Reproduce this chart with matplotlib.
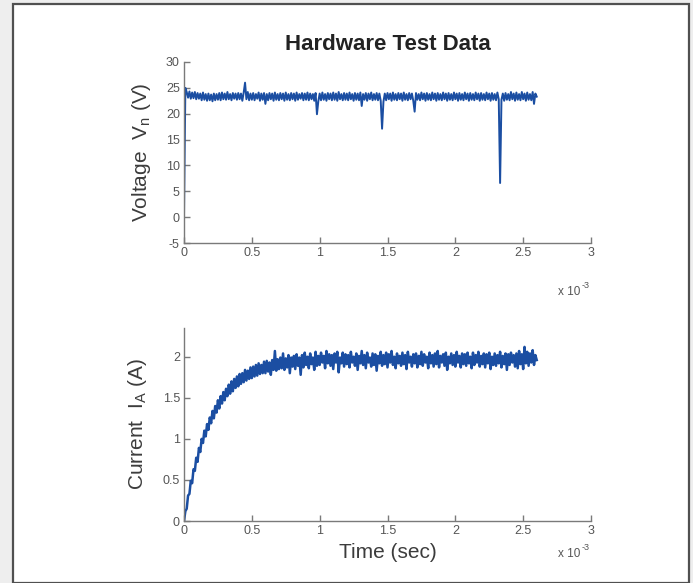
import numpy as np
import matplotlib
matplotlib.use("Agg")
import matplotlib.pyplot as plt
from matplotlib.patches import Rectangle

plt.rcParams['font.family'] = ['Liberation Sans', 'DejaVu Sans']
plt.rcParams['axes.unicode_minus'] = False

# sample index -> time in ms (one sample every 0.01 ms, 0 .. 2.6 ms)
n_samples = 261
time_ms = np.arange(n_samples) * 0.01

voltage = [
    0.0, 25.0, 24.2, 23.1, 24.3, 22.9, 24.1, 23.0, 24.2, 22.8,
    24.0, 22.9, 23.9, 22.6, 24.1, 22.7, 23.8, 22.5, 23.9, 22.6,
    23.7, 22.4, 23.9, 22.6, 23.8, 22.7, 24.0, 22.6, 24.1, 22.8,
    23.9, 22.7, 24.2, 22.8, 23.8, 22.6, 24.0, 22.9, 23.9, 22.7,
    24.0, 22.8, 23.9, 22.5, 24.1, 26.0, 22.8, 24.2, 22.6, 23.9,
    22.7, 24.0, 22.6, 23.8, 22.9, 24.1, 22.5, 23.9, 22.7, 24.0,
    21.9, 23.8, 22.6, 24.0, 22.8, 23.9, 22.5, 24.1, 22.7, 23.8,
    22.6, 24.0, 22.8, 23.9, 22.5, 24.1, 22.7, 23.8, 22.6, 24.0,
    22.8, 23.9, 22.5, 24.1, 22.7, 23.8, 22.9, 24.0, 22.6, 23.9,
    22.7, 24.1, 22.6, 23.9, 22.8, 23.8, 22.5, 24.0, 19.9, 22.4,
    23.9, 22.6, 24.1, 22.7, 23.8, 22.5, 24.0, 22.8, 23.9, 22.6,
    24.1, 22.7, 23.9, 22.5, 24.2, 22.8, 23.8, 22.6, 24.0, 22.7,
    23.9, 22.6, 24.1, 22.8, 23.8, 22.5, 24.0, 22.7, 23.9, 22.6,
    24.1, 21.5, 23.8, 22.7, 24.0, 22.5, 23.9, 22.8, 24.1, 22.6,
    23.8, 22.7, 24.0, 22.6, 23.9, 22.5, 17.1, 22.3, 23.9, 22.6,
    24.0, 22.8, 23.9, 22.5, 24.1, 22.7, 23.8, 22.6, 24.0, 22.8,
    23.9, 22.5, 24.1, 22.7, 23.8, 22.6, 24.0, 22.8, 23.9, 22.5,
    20.4, 24.0, 22.7, 23.8, 22.6, 24.1, 22.8, 23.9, 22.5, 24.0,
    22.7, 23.8, 22.6, 24.1, 22.8, 23.9, 22.5, 24.0, 22.7, 23.8,
    22.6, 24.1, 22.8, 23.9, 22.5, 24.0, 22.7, 23.8, 22.6, 24.1,
    22.8, 23.9, 22.5, 24.0, 22.7, 23.8, 22.6, 24.1, 22.8, 23.9,
    22.5, 24.0, 22.7, 23.8, 22.6, 24.1, 22.8, 23.9, 22.5, 24.0,
    22.7, 23.8, 22.6, 24.1, 22.8, 23.9, 22.5, 24.0, 22.7, 23.8,
    22.6, 24.1, 22.8, 6.6, 22.7, 23.9, 22.5, 24.0, 22.7, 23.8,
    22.6, 24.2, 22.8, 23.9, 22.5, 24.1, 22.7, 23.8, 22.6, 24.2,
    22.8, 23.9, 22.5, 24.1, 22.7, 23.8, 22.6, 24.2, 21.9, 23.9,
    23.3,
]

current = [
    0.00, 0.12, 0.15, 0.31, 0.33, 0.49, 0.46, 0.63, 0.61, 0.77,
    0.72, 0.89, 0.84, 1.00, 0.95, 1.10, 1.03, 1.18, 1.11, 1.26,
    1.19, 1.34, 1.25, 1.40, 1.32, 1.47, 1.37, 1.52, 1.43, 1.57,
    1.47, 1.61, 1.52, 1.66, 1.55, 1.70, 1.58, 1.73, 1.62, 1.76,
    1.64, 1.79, 1.67, 1.80, 1.69, 1.84, 1.71, 1.83, 1.73, 1.87,
    1.74, 1.88, 1.76, 1.90, 1.77, 1.92, 1.79, 1.90, 1.80, 1.94,
    1.80, 1.95, 1.82, 1.93, 1.78, 1.96, 1.84, 2.07, 1.83, 1.97,
    1.85, 1.99, 1.86, 2.04, 1.84, 1.98, 1.87, 2.02, 1.80, 1.99,
    1.88, 2.01, 1.85, 2.03, 1.89, 1.99, 1.78, 2.02, 1.87, 2.05,
    1.90, 2.00, 1.86, 2.04, 1.91, 1.99, 1.84, 2.06, 1.89, 2.01,
    1.90, 2.05, 1.93, 2.01, 1.86, 2.07, 1.92, 2.03, 1.89, 2.02,
    1.85, 2.04, 1.93, 2.06, 1.81, 1.99, 1.92, 2.05, 1.88, 2.03,
    1.91, 2.02, 1.87, 2.06, 1.93, 2.00, 1.89, 2.04, 1.84, 2.01,
    1.92, 2.07, 1.90, 2.02, 1.86, 2.05, 1.93, 1.99, 1.88, 2.04,
    1.90, 2.03, 1.83, 2.01, 1.92, 2.06, 1.89, 2.02, 1.91, 2.05,
    1.87, 2.03, 1.93, 2.07, 1.90, 2.00, 1.86, 2.04, 1.92, 2.01,
    1.89, 2.05, 1.91, 2.02, 1.85, 2.06, 1.93, 2.00, 1.88, 2.03,
    1.92, 2.04, 1.87, 2.01, 1.91, 2.06, 1.89, 2.03, 1.93, 2.00,
    1.86, 2.05, 1.92, 2.02, 1.88, 2.04, 1.91, 2.07, 1.87, 2.01,
    1.93, 2.03, 1.89, 2.05, 1.84, 2.00, 1.92, 2.04, 1.90, 2.02,
    1.88, 2.06, 1.93, 2.01, 1.87, 2.04, 1.91, 2.03, 1.89, 2.05,
    1.92, 2.00, 1.86, 2.05, 1.90, 2.02, 1.93, 2.06, 1.88, 2.01,
    1.91, 2.04, 1.87, 2.03, 1.92, 2.05, 1.85, 2.00, 1.90, 2.04,
    1.89, 2.02, 1.92, 2.06, 1.87, 2.01, 1.91, 2.04, 1.84, 2.03,
    1.90, 2.05, 1.93, 2.02, 1.88, 2.04, 1.86, 2.07, 1.91, 2.03,
    1.85, 2.12, 1.92, 2.06, 1.89, 2.04, 1.93, 2.08, 1.90, 2.02,
    1.96,
]

x_ticks = [0, 0.5, 1, 1.5, 2, 2.5, 3]
x_tick_labels = ['0', '0.5', '1', '1.5', '2', '2.5', '3']
v_ticks = [-5, 0, 5, 10, 15, 20, 25, 30]
i_ticks = [0, 0.5, 1, 1.5, 2]
i_tick_labels = ['0', '0.5', '1', '1.5', '2']

line_color = '#1b4ea2'
axis_color = '#7a7a7a'
tick_text = '#555555'
label_text = '#3c3c3c'

fig = plt.figure(figsize=(6.93, 5.83), dpi=100)
fig.patch.set_facecolor('#eeeeee')

# page frame like the scanned figure, kept behind the axes
W, H = 693, 583
frame = Rectangle((13 / W, 0), (689 - 13) / W, (583 - 4) / H,
                  transform=fig.transFigure, facecolor='white',
                  edgecolor='#505050', linewidth=1.6, zorder=-10)
fig.add_artist(frame)


def style_axes(ax):
    for side in ['top', 'right']:
        ax.spines[side].set_visible(False)
    for side in ['left', 'bottom']:
        ax.spines[side].set_color(axis_color)
        ax.spines[side].set_linewidth(1.0)
    ax.tick_params(direction='in', length=4, width=1.0, color=axis_color,
                   labelcolor=tick_text, labelsize=9, pad=3)
    ax.patch.set_visible(False)


def exponent_label(ax, y):
    # MATLAB style "x 10^-3" under the right end of the x axis
    ax.text(0.975, y, 'x 10', transform=ax.transAxes, ha='right',
            va='center', fontsize=8.5, color=tick_text)
    ax.text(0.976, y + 0.035, '-3', transform=ax.transAxes, ha='left',
            va='center', fontsize=6.5, color=tick_text)


ax1 = fig.add_axes([184 / W, 1 - 243 / H, (591 - 184) / W, 181 / H])
ax1.plot(time_ms, voltage, color=line_color, linewidth=1.4)
ax1.set_xlim(0, 3)
ax1.set_ylim(-5, 30)
ax1.set_xticks(x_ticks)
ax1.set_xticklabels(x_tick_labels)
ax1.set_yticks(v_ticks)
style_axes(ax1)
ax1.set_ylabel('Voltage  V$_{\\mathregular{n}}$ (V)', fontsize=15,
               color=label_text)
ax1.yaxis.set_label_coords(-0.077, 0.5)
ax1.set_title('Hardware Test Data', fontsize=16, fontweight='bold',
              color='#222222', pad=9)
exponent_label(ax1, -0.27)

ax2 = fig.add_axes([184 / W, 1 - 521 / H, (591 - 184) / W, 193 / H])
ax2.plot(time_ms, current, color=line_color, linewidth=1.8)
ax2.set_xlim(0, 3)
ax2.set_ylim(0, 2.35)
ax2.set_xticks(x_ticks)
ax2.set_xticklabels(x_tick_labels)
ax2.set_yticks(i_ticks)
ax2.set_yticklabels(i_tick_labels)
style_axes(ax2)
ax2.set_ylabel('Current  I$_{\\mathregular{A}}$ (A)', fontsize=15,
               color=label_text)
ax2.yaxis.set_label_coords(-0.086, 0.5)
ax2.set_xlabel('Time (sec)', fontsize=15, color=label_text)
ax2.xaxis.set_label_coords(0.5, -0.115)
exponent_label(ax2, -0.17)

fig.savefig('out.png', dpi=100, facecolor=fig.get_facecolor())
